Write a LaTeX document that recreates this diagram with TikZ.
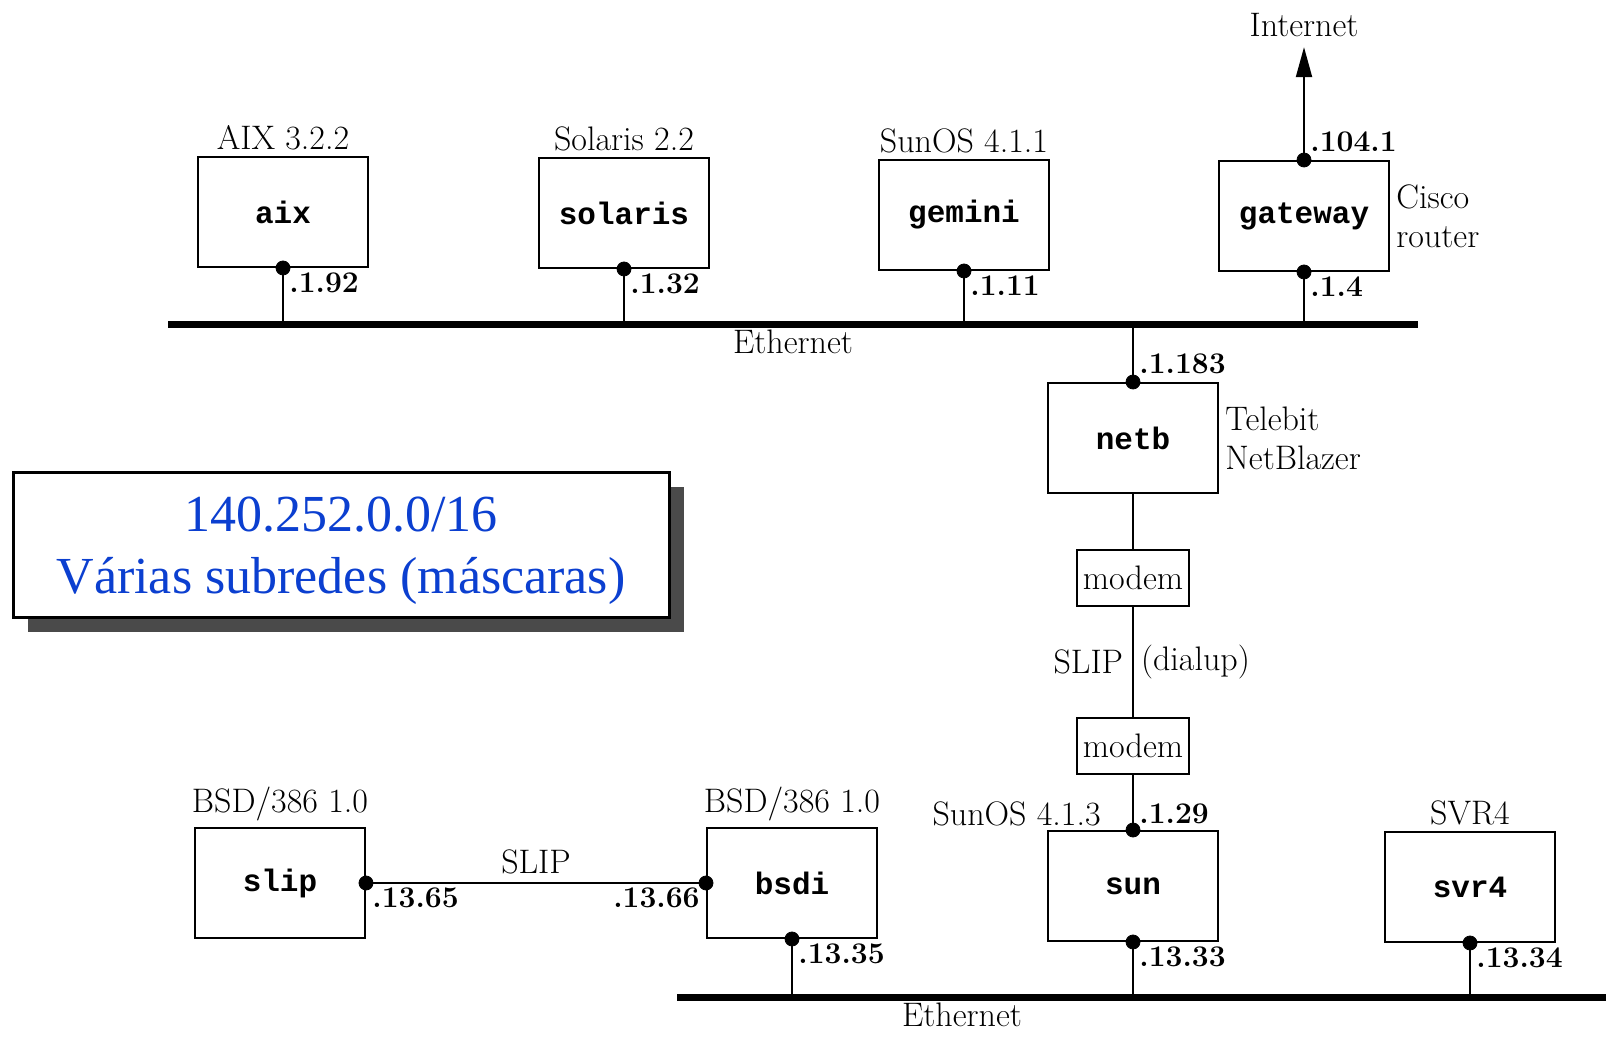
\documentclass[tikz,border=0pt]{standalone}
\usepackage{fontspec}
\usepackage{tikz}
\usetikzlibrary{positioning,arrows.meta,shadows}
\newfontfamily\hostfont{Liberation Mono}
\newfontfamily\boxfont{Liberation Serif}
\definecolor{netblue}{HTML}{0B3FD0}
\definecolor{shade}{HTML}{4A4A4A}

\tikzset{
  host/.style={draw, line width=1pt, minimum width=85pt, minimum height=55pt,
    font=\hostfont\bfseries\fontsize{15.5}{18}\selectfont},
  modembox/.style={draw, line width=1pt, minimum width=56pt, minimum height=28pt,
    inner sep=0pt, font=\fontsize{17}{19.5}\selectfont},
  lbl/.style={inner sep=1pt, font=\fontsize{17}{19.5}\selectfont},
  addr/.style={inner sep=1pt, font=\bfseries\fontsize{15}{18}\selectfont},
  ether/.style={line width=3.5pt},
  wire/.style={line width=1pt},
}

\begin{document}
\begin{tikzpicture}[x=0.5pt, y=-0.5pt]
\useasboundingbox (0,0) rectangle (1606,1052);

% hosts
\node[host] (aix) at (283, 212) {aix};
\node[host] (solaris) at (624, 213) {solaris};
\node[host] (gemini) at (964, 215) {gemini};
\node[host] (gateway) at (1304, 216) {gateway};
\node[host] (netb) at (1133, 438) {netb};
\node[modembox] (modemA) at (1133, 578) {modem};
\node[modembox] (modemB) at (1133, 746) {modem};
\node[host] (sun) at (1133, 886) {sun};
\node[host] (svr4) at (1470, 887) {svr4};
\node[host] (bsdi) at (792, 883) {bsdi};
\node[host] (slip) at (280, 883) {slip};

% ethernets
\coordinate (ethA) at (168, 325);
\coordinate (ethB) at (1418, 325);
\coordinate (ethC) at (677, 997);
\coordinate (ethD) at (1606, 997);
\draw[ether] (ethA) -- (ethB);
\draw[ether] (ethC) -- (ethD);
\node[lbl] at (793, 342) {Ethernet};
\node[lbl] at (962, 1015) {Ethernet};

% taps
\draw[wire] (aix.south) -- (aix.south |- ethA)
  (solaris.south) -- (solaris.south |- ethA)
  (gemini.south) -- (gemini.south |- ethA)
  (gateway.south) -- (gateway.south |- ethA)
  (netb.north) -- (netb.north |- ethA)
  (bsdi.south) -- (bsdi.south |- ethC)
  (sun.south) -- (sun.south |- ethC)
  (svr4.south) -- (svr4.south |- ethC);
\draw[wire] (netb.south) -- (modemA.north);
\draw[wire] (modemA.south) -- (modemB.north)
  node[lbl, midway, left=3.5pt] {SLIP}
  node[lbl, midway, right=2.5pt] {(dialup)};
\draw[wire] (modemB.south) -- (sun.north);
\draw[wire] (slip.east) -- (bsdi.west) node[lbl, midway, above=3pt] {SLIP};

% internet
\node[lbl] (inet) at (1304, 25) {Internet};
\draw[wire, -{Triangle[length=15pt, width=8pt]}, shorten >=4pt] (gateway.north) -- (inet.south);

\filldraw (aix.south) circle (3.5pt) (solaris.south) circle (3.5pt)
  (gemini.south) circle (3.5pt) (gateway.south) circle (3.5pt)
  (gateway.north) circle (3.5pt) (netb.north) circle (3.5pt)
  (sun.north) circle (3.5pt) (sun.south) circle (3.5pt)
  (svr4.south) circle (3.5pt) (bsdi.south) circle (3.5pt)
  (bsdi.west) circle (3.5pt) (slip.east) circle (3.5pt);

% system names
\node[lbl, above=2pt of aix] {AIX 3.2.2};
\node[lbl, above=2pt of solaris] {Solaris 2.2};
\node[lbl, above=2pt of gemini] {SunOS 4.1.1};
\node[lbl, right=2pt of gateway, align=left] {Cisco\\router};
\node[lbl, right=2pt of netb, align=left] {Telebit\\NetBlazer};
\node[lbl, above left=1pt and 15pt of sun.north] {SunOS 4.1.3};
\node[lbl, above=2pt of svr4] {SVR4};
\node[lbl, above=2pt of bsdi] {BSD/386 1.0};
\node[lbl, above=2pt of slip] {BSD/386 1.0};

% addresses
\node[addr, below right=1pt and 2pt of aix.south] {.1.92};
\node[addr, below right=1pt and 2pt of solaris.south] {.1.32};
\node[addr, below right=1pt and 2pt of gemini.south] {.1.11};
\node[addr, below right=1pt and 2pt of gateway.south] {.1.4};
\node[addr, above right=3pt and 2pt of gateway.north] {.104.1};
\node[addr, above right=3pt and 2pt of netb.north] {.1.183};
\node[addr, above right=2pt and 2pt of sun.north] {.1.29};
\node[addr, below right=1pt and 2pt of sun.south] {.13.33};
\node[addr, below right=1pt and 2pt of svr4.south] {.13.34};
\node[addr, below right=1pt and 2pt of bsdi.south] {.13.35};
\node[addr, below right=1pt and 2pt of slip.east] {.13.65};
\node[addr, below left=1pt and 2pt of bsdi.west] {.13.66};

% subnet box
\node[draw, line width=1.5pt, fill=white, minimum width=328pt, minimum height=72.5pt,
  drop shadow={shadow xshift=7.5pt, shadow yshift=-7.5pt, fill=shade, opacity=1},
  align=center, text depth=0pt, text=netblue, font=\boxfont\fontsize{26}{31}\selectfont]
  (subnet) at (341, 545) {140.252.0.0/16\\Várias subredes (máscaras)};
\end{tikzpicture}
\end{document}
